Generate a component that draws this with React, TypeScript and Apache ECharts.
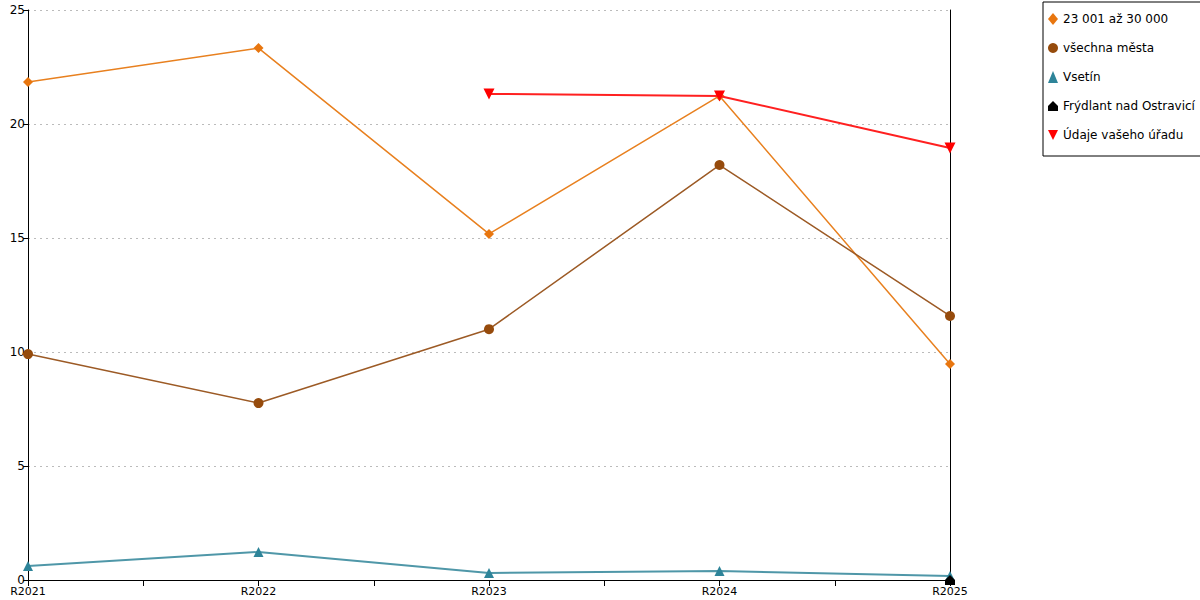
import React, { useEffect, useRef } from "react";
import * as echarts from "echarts";

const categories = ["R2021", "R2022", "R2023", "R2024", "R2025"];
const seriesNames = [
  "23 001 až 30 000",
  "všechna města",
  "Vsetín",
  "Frýdlant nad Ostravicí",
  "Údaje vašeho úřadu",
];
const groupValues = [21.84, 23.33, 15.18, 21.23, 9.47];
const allCitiesValues = [9.91, 7.76, 11.0, 18.2, 11.58];
const vsetinValues = [0.61, 1.23, 0.31, 0.39, 0.18];
const frydlantValues: (number | null)[] = [null, null, null, null, 0];
const officeValues: (number | null)[] = [null, null, 21.32, 21.23, 18.95];
const yTicks = [0, 5, 10, 15, 20, 25];

const FONT = "DejaVu Sans";
const HOUSE = "path://M5,0 L10,5 L10,10 L0,10 L0,5 Z";
const TRI_DOWN = "path://M0,0 L10,0 L5,10 Z";

function toPoints(vals: (number | null)[]) {
  return vals
    .map((v, i) => (v === null ? null : [i, v]))
    .filter((p) => p !== null);
}

export default function App() {
  const ref = useRef<HTMLDivElement>(null);
  useEffect(() => {
    if (!ref.current) return;
    const chart = echarts.init(ref.current, undefined, { renderer: "svg" });
    chart.setOption({
      animation: false,
      backgroundColor: "#ffffff",
      grid: { left: 28, right: 250, top: 10, bottom: 20, containLabel: false },
      legend: {
        orient: "vertical",
        left: 1043,
        top: 2,
        padding: [11, 6, 15, 5],
        itemGap: 17,
        itemWidth: 10,
        itemHeight: 12,
        borderColor: "#000",
        borderWidth: 1,
        textStyle: { fontFamily: FONT, fontSize: 12, color: "#000" },
        data: [
          { name: seriesNames[0], icon: "diamond" },
          { name: seriesNames[1], icon: "circle" },
          { name: seriesNames[2], icon: "triangle" },
          { name: seriesNames[3], icon: HOUSE },
          { name: seriesNames[4], icon: TRI_DOWN },
        ],
      },
      xAxis: {
        type: "value",
        min: 0,
        max: categories.length - 1,
        interval: 0.5,
        axisLine: { show: true, lineStyle: { color: "#000", width: 1 } },
        axisTick: { show: true, length: 6, lineStyle: { color: "#000" } },
        splitLine: { show: false },
        axisLabel: {
          fontFamily: FONT,
          fontSize: 11,
          color: "#000",
          margin: 6,
          formatter: (v: number) =>
            Number.isInteger(v) ? categories[v] ?? "" : "",
        },
      },
      yAxis: [
        {
          type: "value",
          min: yTicks[0],
          max: yTicks[yTicks.length - 1],
          interval: 5,
          axisLine: { show: true, lineStyle: { color: "#000", width: 1 } },
          axisTick: { show: true, length: 5, lineStyle: { color: "#000" } },
          splitLine: {
            show: true,
            lineStyle: { color: "#bbbbbb", type: [2, 4], width: 1 },
          },
          axisLabel: {
            fontFamily: FONT,
            fontSize: 12,
            color: "#000",
            margin: 3,
          },
        },
        {
          type: "value",
          position: "right",
          min: yTicks[0],
          max: yTicks[yTicks.length - 1],
          interval: 5,
          axisLine: { show: true, lineStyle: { color: "#000", width: 1 } },
          axisTick: { show: false },
          axisLabel: { show: false },
          splitLine: { show: false },
        },
      ],
      series: [
        {
          name: seriesNames[0],
          type: "line",
          data: toPoints(groupValues),
          symbol: "diamond",
          symbolSize: 10,
          color: "#e8760f",
          lineStyle: { width: 1.5, color: "#e8801f" },
          itemStyle: { color: "#e8760f" },
          z: 3,
        },
        {
          name: seriesNames[1],
          type: "line",
          data: toPoints(allCitiesValues),
          symbol: "circle",
          symbolSize: 10,
          color: "#964b0c",
          lineStyle: { width: 1.5, color: "#9c5a25" },
          itemStyle: { color: "#964b0c" },
          z: 3,
        },
        {
          name: seriesNames[2],
          type: "line",
          data: toPoints(vsetinValues),
          symbol: "triangle",
          symbolSize: 10,
          color: "#2e8499",
          lineStyle: { width: 2, color: "#4f97a8" },
          itemStyle: { color: "#2e8499" },
          z: 3,
        },
        {
          name: seriesNames[3],
          type: "line",
          data: toPoints(frydlantValues),
          symbol: HOUSE,
          symbolSize: 10,
          color: "#000",
          itemStyle: { color: "#000" },
          z: 4,
        },
        {
          name: seriesNames[4],
          type: "line",
          data: toPoints(officeValues),
          symbol: TRI_DOWN,
          symbolSize: 11,
          color: "#ff0000",
          lineStyle: { width: 2, color: "#ff2020" },
          itemStyle: { color: "#ff0000" },
          z: 5,
        },
      ],
    });
    return () => chart.dispose();
  }, []);
  return (
    <div
      ref={ref}
      style={{ position: "fixed", left: 0, top: 0, width: 1200, height: 600 }}
    />
  );
}
